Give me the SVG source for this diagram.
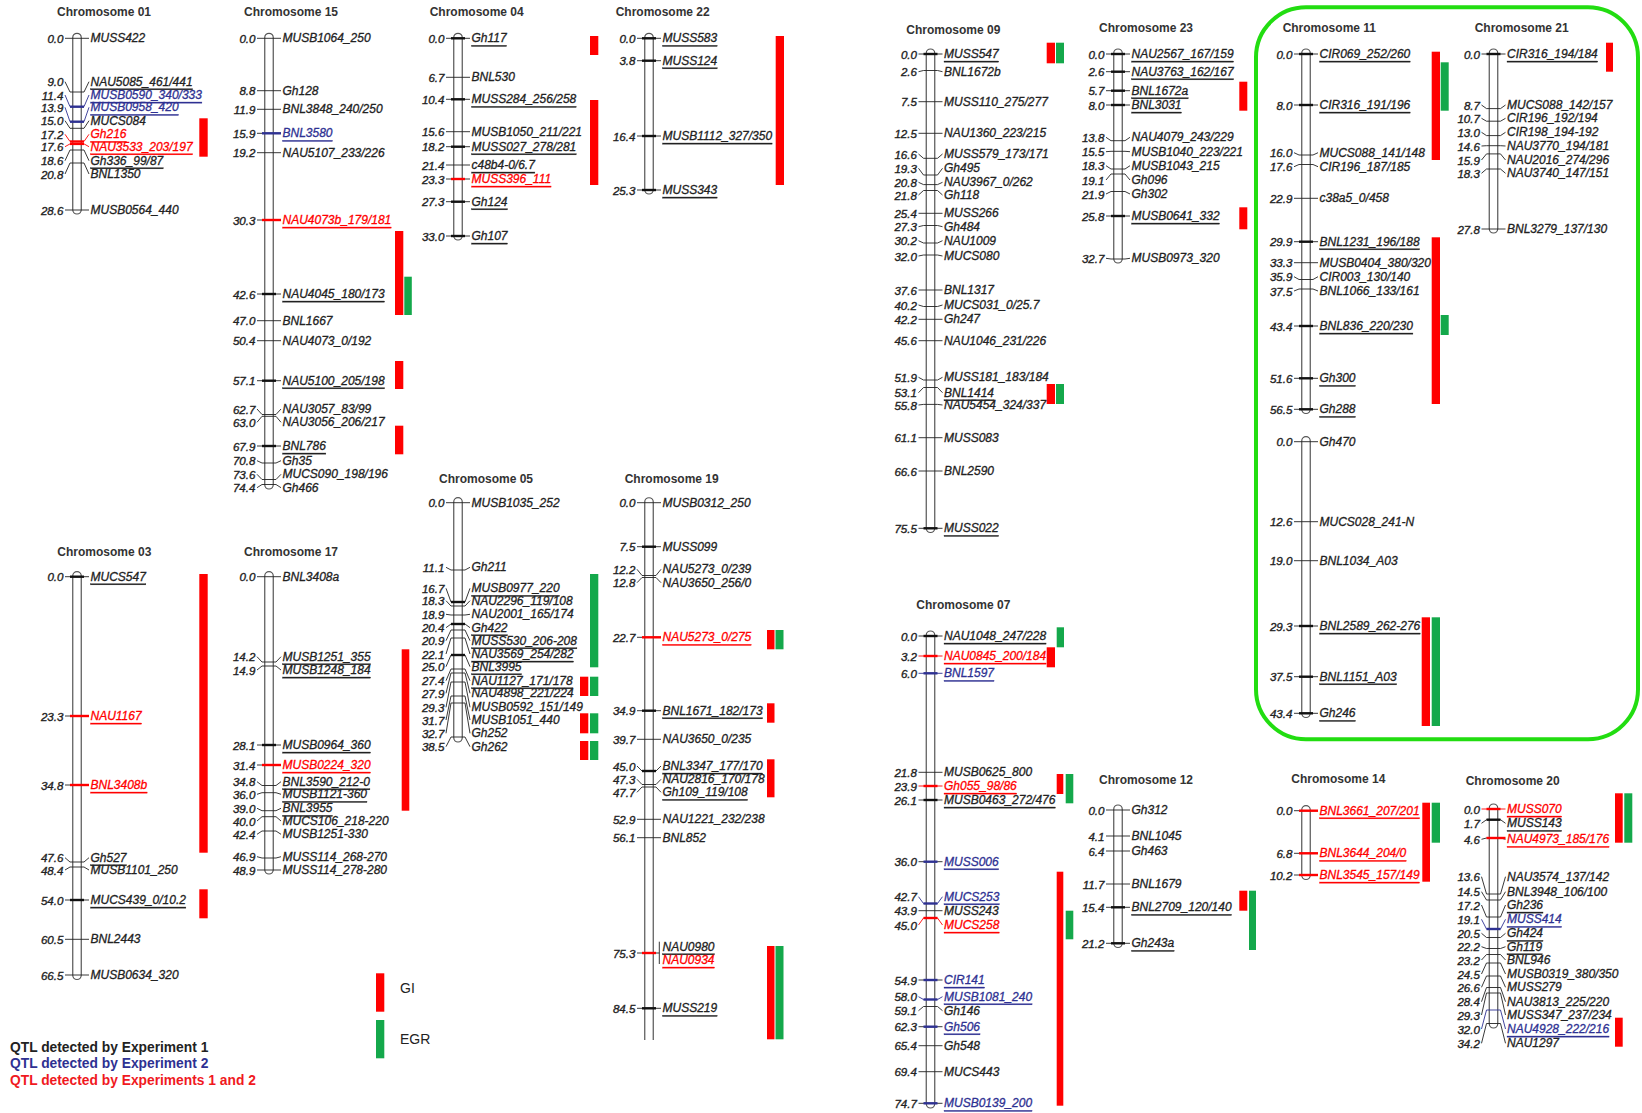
<svg xmlns="http://www.w3.org/2000/svg" width="1642" height="1113" viewBox="0 0 1642 1113">
<style>
text{font-family:"Liberation Sans",Arial,sans-serif}
.ti{font-size:12px;font-weight:bold;fill:#333;text-anchor:middle;dominant-baseline:central}
.n{font-size:11.6px;font-style:italic;fill:#222;stroke:#222;stroke-width:0.35;text-anchor:end;dominant-baseline:central}
.m{font-size:12px;font-style:italic;fill:#222;stroke:#222;stroke-width:0.3;dominant-baseline:central}
.u{text-decoration:underline}
.r{fill:#f00;stroke:#f00}
.b{fill:#2e3192;stroke:#2e3192}
.c{fill:none;stroke:#222;stroke-width:0.9}
.cr{stroke:#f00}
.cb{stroke:#2e3192}
.t{stroke:#111;stroke-width:2.4;fill:none}
.tr{stroke:#f00;stroke-width:2.4;fill:none}
.tb{stroke:#2e3192;stroke-width:2.4;fill:none}
.rod{fill:#fff;stroke:#555;stroke-width:1.2}
.qr{fill:#f00}
.qg{fill:#14a84b}
.lg{font-size:13.8px;font-weight:bold;dominant-baseline:central}
.lk{font-size:14px;fill:#222;dominant-baseline:central}
</style>
<rect width="1642" height="1113" fill="#fff"/>

<!-- Chromosome 01 -->
<g id="chr01">
<g transform="translate(77,0)">
<text class="ti" x="27" y="12">Chromosome 01</text>
<rect class="rod" x="-4.25" y="33.3" width="8.5" height="180.7" rx="4.25"/>
<g class="ticks">
<path class="c" d="M-12,38.3H12"/>
<path class="c" d="M-12,81.7L-7,92H7L12,81.7"/>
<path class="c cb" d="M-12,95L-7,106.7H7L12,95"/><path class="tb" d="M-7,106.7H7"/>
<path class="c cb" d="M-12,107.3L-7,121.7H7L12,107.3"/><path class="tb" d="M-7,121.7H7"/>
<path class="c" d="M-12,120.7L-7,128.3H7L12,120.7"/>
<path class="c cr" d="M-12,134.3L-7,141.5H7L12,134.3"/><path class="tr" d="M-7,141.5H7"/>
<path class="c cr" d="M-12,146.7L-7,143.9H7L12,146.7"/><path class="tr" d="M-7,143.9H7"/>
<path class="c" d="M-12,160.7L-7,150H7L12,160.7"/>
<path class="c" d="M-12,174L-7,163H7L12,174"/>
<path class="c" d="M-12,210H12"/>
</g>
<text class="n" x="-13.5" y="38.3">0.0</text><text class="m" x="13.5" y="38.3">MUSS422</text>
<text class="n" x="-13.5" y="81.7">9.0</text><text class="m u" x="13.5" y="81.7">NAU5085_461/441</text>
<text class="n" x="-13.5" y="95">11.4</text><text class="m u b" x="13.5" y="95">MUSB0590_340/333</text>
<text class="n" x="-13.5" y="107.3">13.9</text><text class="m u b" x="13.5" y="107.3">MUSB0958_420</text>
<text class="n" x="-13.5" y="120.7">15.0</text><text class="m" x="13.5" y="120.7">MUCS084</text>
<text class="n" x="-13.5" y="134.3">17.2</text><text class="m u r" x="13.5" y="134.3">Gh216</text>
<text class="n" x="-13.5" y="146.7">17.6</text><text class="m u r" x="13.5" y="146.7">NAU3533_203/197</text>
<text class="n" x="-13.5" y="160.7">18.6</text><text class="m u" x="13.5" y="160.7">Gh336_99/87</text>
<text class="n" x="-13.5" y="174">20.8</text><text class="m" x="13.5" y="174">BNL1350</text>
<text class="n" x="-13.5" y="210">28.6</text><text class="m" x="13.5" y="210">MUSB0564_440</text>
</g>
<g class="qtl"><rect class="qr" x="199.3" y="118.3" width="8.4" height="38.4"/></g>
</g>

<!-- Chromosome 15 -->
<g id="chr15">
<g transform="translate(269,0)">
<text class="ti" x="22" y="12">Chromosome 15</text>
<rect class="rod" x="-4.25" y="33.3" width="8.5" height="455.7" rx="4.25"/>
<g class="ticks">
<path class="c" d="M-12,38.3H12"/>
<path class="c" d="M-12,90.7H12"/>
<path class="c" d="M-12,109.3H12"/>
<path class="c" d="M-12,133.3H12"/><path class="tb" d="M-7,133.3H12"/>
<path class="c" d="M-12,152.7H12"/>
<path class="c" d="M-12,220H12"/><path class="tr" d="M-7,220H12"/>
<path class="c" d="M-12,294H12"/><path class="t" d="M-7,294H7"/>
<path class="c" d="M-12,320.7H12"/>
<path class="c" d="M-12,340.7H12"/>
<path class="c" d="M-12,380.7H12"/><path class="t" d="M-7,380.7H7"/>
<path class="c" d="M-12,409L-7,414.5H7L12,409"/>
<path class="c" d="M-12,422.3L-7,416.3H7L12,422.3"/>
<path class="c" d="M-12,446H12"/><path class="t" d="M-7,446H7"/>
<path class="c" d="M-12,460.7L-7,463H7L12,460.7"/>
<path class="c" d="M-12,474.3L-7,479.5H7L12,474.3"/>
<path class="c" d="M-12,487.7L-7,484.5H7L12,487.7"/>
</g>
<text class="n" x="-13.5" y="38.3">0.0</text><text class="m" x="13.5" y="38.3">MUSB1064_250</text>
<text class="n" x="-13.5" y="90.7">8.8</text><text class="m" x="13.5" y="90.7">Gh128</text>
<text class="n" x="-13.5" y="109.3">11.9</text><text class="m" x="13.5" y="109.3">BNL3848_240/250</text>
<text class="n" x="-13.5" y="133.3">15.9</text><text class="m u b" x="13.5" y="133.3">BNL3580</text>
<text class="n" x="-13.5" y="152.7">19.2</text><text class="m" x="13.5" y="152.7">NAU5107_233/226</text>
<text class="n" x="-13.5" y="220">30.3</text><text class="m u r" x="13.5" y="220">NAU4073b_179/181</text>
<text class="n" x="-13.5" y="294">42.6</text><text class="m u" x="13.5" y="294">NAU4045_180/173</text>
<text class="n" x="-13.5" y="320.7">47.0</text><text class="m" x="13.5" y="320.7">BNL1667</text>
<text class="n" x="-13.5" y="340.7">50.4</text><text class="m" x="13.5" y="340.7">NAU4073_0/192</text>
<text class="n" x="-13.5" y="380.7">57.1</text><text class="m u" x="13.5" y="380.7">NAU5100_205/198</text>
<text class="n" x="-13.5" y="409">62.7</text><text class="m" x="13.5" y="409">NAU3057_83/99</text>
<text class="n" x="-13.5" y="422.3">63.0</text><text class="m" x="13.5" y="422.3">NAU3056_206/217</text>
<text class="n" x="-13.5" y="446">67.9</text><text class="m u" x="13.5" y="446">BNL786</text>
<text class="n" x="-13.5" y="460.7">70.8</text><text class="m" x="13.5" y="460.7">Gh35</text>
<text class="n" x="-13.5" y="474.3">73.6</text><text class="m" x="13.5" y="474.3">MUCS090_198/196</text>
<text class="n" x="-13.5" y="487.7">74.4</text><text class="m" x="13.5" y="487.7">Gh466</text>
</g>
<g class="qtl">
<rect class="qr" x="395" y="231" width="8.3" height="84"/>
<rect class="qg" x="404.3" y="276.7" width="7.5" height="38.3"/>
<rect class="qr" x="395" y="361" width="8.3" height="28"/>
<rect class="qr" x="395" y="425.7" width="8.3" height="28.6"/>
</g>
</g>

<!-- Chromosome 04 -->
<g id="chr04">
<g transform="translate(458,0)">
<text class="ti" x="18.7" y="12">Chromosome 04</text>
<rect class="rod" x="-4.25" y="33.3" width="8.5" height="206.7" rx="4.25"/>
<g class="ticks">
<path class="c" d="M-12,38.3H12"/><path class="t" d="M-7,38.3H7"/>
<path class="c" d="M-12,77.3H12"/>
<path class="c" d="M-12,99.3H12"/><path class="t" d="M-7,99.3H7"/>
<path class="c" d="M-12,131.7H12"/>
<path class="c" d="M-12,146.7H12"/><path class="t" d="M-7,146.7H7"/>
<path class="c" d="M-12,165H12"/>
<path class="c" d="M-12,179H12"/><path class="tr" d="M-7,179H7"/>
<path class="c" d="M-12,201.7H12"/><path class="t" d="M-7,201.7H7"/>
<path class="c" d="M-12,236H12"/><path class="t" d="M-7,236H7"/>
</g>
<text class="n" x="-13.5" y="38.3">0.0</text><text class="m u" x="13.5" y="38.3">Gh117</text>
<text class="n" x="-13.5" y="77.3">6.7</text><text class="m" x="13.5" y="77.3">BNL530</text>
<text class="n" x="-13.5" y="99.3">10.4</text><text class="m u" x="13.5" y="99.3">MUSS284_256/258</text>
<text class="n" x="-13.5" y="131.7">15.6</text><text class="m" x="13.5" y="131.7">MUSB1050_211/221</text>
<text class="n" x="-13.5" y="146.7">18.2</text><text class="m u" x="13.5" y="146.7">MUSS027_278/281</text>
<text class="n" x="-13.5" y="165">21.4</text><text class="m u" x="13.5" y="165">c48b4-0/6.7</text>
<text class="n" x="-13.5" y="179">23.3</text><text class="m u r" x="13.5" y="179">MUSS396_111</text>
<text class="n" x="-13.5" y="201.7">27.3</text><text class="m u" x="13.5" y="201.7">Gh124</text>
<text class="n" x="-13.5" y="236">33.0</text><text class="m u" x="13.5" y="236">Gh107</text>
</g>
<g class="qtl">
<rect class="qr" x="590" y="36" width="8.3" height="19"/>
<rect class="qr" x="590" y="100" width="8.3" height="85"/>
</g>
</g>

<!-- Chromosome 22 -->
<g id="chr22">
<g transform="translate(649,0)">
<text class="ti" x="13.7" y="12">Chromosome 22</text>
<rect class="rod" x="-4.25" y="33.3" width="8.5" height="160.7" rx="4.25"/>
<g class="ticks">
<path class="c" d="M-12,38.3H12"/><path class="t" d="M-7,38.3H7"/>
<path class="c" d="M-12,60.7H12"/><path class="t" d="M-7,60.7H7"/>
<path class="c" d="M-12,136H12"/><path class="t" d="M-7,136H7"/>
<path class="c" d="M-12,190H12"/><path class="t" d="M-7,190H7"/>
</g>
<text class="n" x="-13.5" y="38.3">0.0</text><text class="m u" x="13.5" y="38.3">MUSS583</text>
<text class="n" x="-13.5" y="60.7">3.8</text><text class="m u" x="13.5" y="60.7">MUSS124</text>
<text class="n" x="-13.5" y="136">16.4</text><text class="m u" x="13.5" y="136">MUSB1112_327/350</text>
<text class="n" x="-13.5" y="190">25.3</text><text class="m u" x="13.5" y="190">MUSS343</text>
</g>
<g class="qtl"><rect class="qr" x="775.7" y="36" width="8.3" height="149"/></g>
</g>

<!-- Chromosome 09 -->
<g id="chr09">
<g transform="translate(930.5,0)">
<text class="ti" x="22.8" y="30">Chromosome 09</text>
<rect class="rod" x="-4.25" y="49" width="8.5" height="483.5" rx="4.25"/>
<g class="ticks">
<path class="c" d="M-12,54H12"/><path class="t" d="M-7,54H7"/>
<path class="c" d="M-12,71.7L-7,70.5H7L12,71.7"/>
<path class="c" d="M-12,101.7H12"/>
<path class="c" d="M-12,133.3H12"/>
<path class="c" d="M-12,154L-7,158.3H7L12,154"/>
<path class="c" d="M-12,168.3L-7,175H7L12,168.3"/>
<path class="c" d="M-12,182.3L-7,184.6H7L12,182.3"/>
<path class="c" d="M-12,195L-7,190.5H7L12,195"/>
<path class="c" d="M-12,213.3H12"/>
<path class="c" d="M-12,226.7L-7,225.5H7L12,226.7"/>
<path class="c" d="M-12,240.7L-7,243H7L12,240.7"/>
<path class="c" d="M-12,256L-7,255H7L12,256"/>
<path class="c" d="M-12,290H12"/>
<path class="c" d="M-12,305L-7,306.5H7L12,305"/>
<path class="c" d="M-12,319.3H12"/>
<path class="c" d="M-12,340.7H12"/>
<path class="c" d="M-12,377.3L-7,380H7L12,377.3"/>
<path class="c" d="M-12,392.7L-7,387.5H7L12,392.7"/>
<path class="c" d="M-12,405L-7,404.4H7L12,405"/>
<path class="c" d="M-12,437.7H12"/>
<path class="c" d="M-12,471H12"/>
<path class="c" d="M-12,528.3H12"/><path class="t" d="M-7,528.3H7"/>
</g>
<text class="n" x="-13.5" y="54">0.0</text><text class="m u" x="13.5" y="54">MUSS547</text>
<text class="n" x="-13.5" y="71.7">2.6</text><text class="m" x="13.5" y="71.7">BNL1672b</text>
<text class="n" x="-13.5" y="101.7">7.5</text><text class="m" x="13.5" y="101.7">MUSS110_275/277</text>
<text class="n" x="-13.5" y="133.3">12.5</text><text class="m" x="13.5" y="133.3">NAU1360_223/215</text>
<text class="n" x="-13.5" y="154">16.6</text><text class="m" x="13.5" y="154">MUSS579_173/171</text>
<text class="n" x="-13.5" y="168.3">19.3</text><text class="m" x="13.5" y="168.3">Gh495</text>
<text class="n" x="-13.5" y="182.3">20.8</text><text class="m" x="13.5" y="182.3">NAU3967_0/262</text>
<text class="n" x="-13.5" y="195">21.8</text><text class="m" x="13.5" y="195">Gh118</text>
<text class="n" x="-13.5" y="213.3">25.4</text><text class="m" x="13.5" y="213.3">MUSS266</text>
<text class="n" x="-13.5" y="226.7">27.3</text><text class="m" x="13.5" y="226.7">Gh484</text>
<text class="n" x="-13.5" y="240.7">30.2</text><text class="m" x="13.5" y="240.7">NAU1009</text>
<text class="n" x="-13.5" y="256">32.0</text><text class="m" x="13.5" y="256">MUCS080</text>
<text class="n" x="-13.5" y="290">37.6</text><text class="m" x="13.5" y="290">BNL1317</text>
<text class="n" x="-13.5" y="305">40.2</text><text class="m" x="13.5" y="305">MUCS031_0/25.7</text>
<text class="n" x="-13.5" y="319.3">42.2</text><text class="m" x="13.5" y="319.3">Gh247</text>
<text class="n" x="-13.5" y="340.7">45.6</text><text class="m" x="13.5" y="340.7">NAU1046_231/226</text>
<text class="n" x="-13.5" y="377.3">51.9</text><text class="m" x="13.5" y="377.3">MUSS181_183/184</text>
<text class="n" x="-13.5" y="392.7">53.1</text><text class="m u" x="13.5" y="392.7">BNL1414</text>
<text class="n" x="-13.5" y="405">55.8</text><text class="m" x="13.5" y="405">NAU5454_324/337</text>
<text class="n" x="-13.5" y="437.7">61.1</text><text class="m" x="13.5" y="437.7">MUSS083</text>
<text class="n" x="-13.5" y="471">66.6</text><text class="m" x="13.5" y="471">BNL2590</text>
<text class="n" x="-13.5" y="528.3">75.5</text><text class="m u" x="13.5" y="528.3">MUSS022</text>
</g>
<g class="qtl">
<rect class="qr" x="1046.7" y="42.7" width="8.3" height="20.6"/>
<rect class="qg" x="1056" y="42.7" width="8" height="20.6"/>
<rect class="qr" x="1046.7" y="384" width="8.3" height="20"/>
<rect class="qg" x="1056" y="384" width="8" height="20"/>
</g>
</g>

<!-- Chromosome 23 -->
<g id="chr23">
<g transform="translate(1118,0)">
<text class="ti" x="28" y="28.3">Chromosome 23</text>
<rect class="rod" x="-4.25" y="49" width="8.5" height="214" rx="4.25"/>
<g class="ticks">
<path class="c" d="M-12,54H12"/><path class="t" d="M-7,54H7"/>
<path class="c" d="M-12,71.7H12"/><path class="t" d="M-7,71.7H7"/>
<path class="c" d="M-12,90.7H12"/><path class="t" d="M-7,90.7H7"/>
<path class="c" d="M-12,105H12"/><path class="t" d="M-7,105H7"/>
<path class="c" d="M-12,137.3L-7,140.7H7L12,137.3"/>
<path class="c" d="M-12,151.7L-7,151.3H7L12,151.7"/>
<path class="c" d="M-12,165.7L-7,169H7L12,165.7"/>
<path class="c" d="M-12,180L-7,174H7L12,180"/>
<path class="c" d="M-12,194L-7,191.5H7L12,194"/>
<path class="c" d="M-12,216H12"/><path class="t" d="M-7,216H7"/>
<path class="c" d="M-12,258.3L-7,259H7L12,258.3"/>
</g>
<text class="n" x="-13.5" y="54">0.0</text><text class="m u" x="13.5" y="54">NAU2567_167/159</text>
<text class="n" x="-13.5" y="71.7">2.6</text><text class="m u" x="13.5" y="71.7">NAU3763_162/167</text>
<text class="n" x="-13.5" y="90.7">5.7</text><text class="m u" x="13.5" y="90.7">BNL1672a</text>
<text class="n" x="-13.5" y="105">8.0</text><text class="m u" x="13.5" y="105">BNL3031</text>
<text class="n" x="-13.5" y="137.3">13.8</text><text class="m" x="13.5" y="137.3">NAU4079_243/229</text>
<text class="n" x="-13.5" y="151.7">15.5</text><text class="m" x="13.5" y="151.7">MUSB1040_223/221</text>
<text class="n" x="-13.5" y="165.7">18.3</text><text class="m" x="13.5" y="165.7">MUSB1043_215</text>
<text class="n" x="-13.5" y="180">19.1</text><text class="m" x="13.5" y="180">Gh096</text>
<text class="n" x="-13.5" y="194">21.9</text><text class="m" x="13.5" y="194">Gh302</text>
<text class="n" x="-13.5" y="216">25.8</text><text class="m u" x="13.5" y="216">MUSB0641_332</text>
<text class="n" x="-13.5" y="258.3">32.7</text><text class="m" x="13.5" y="258.3">MUSB0973_320</text>
</g>
<g class="qtl">
<rect class="qr" x="1239.3" y="81.7" width="8" height="29"/>
<rect class="qr" x="1239.3" y="207.3" width="8" height="22"/>
</g>
</g>

<!-- Highlight box -->
<g id="highlight">
<rect x="1256" y="7.3" width="382" height="732" rx="50" fill="none" stroke="#22dd11" stroke-width="4"/>
</g>

<!-- Chromosome 11 -->
<g id="chr11">
<g transform="translate(1306,0)">
<text class="ti" x="23.3" y="28.3">Chromosome 11</text>
<rect class="rod" x="-4.25" y="49" width="8.5" height="364.5" rx="4.25"/>
<g class="ticks">
<path class="c" d="M-12,54H12"/><path class="t" d="M-7,54H7"/>
<path class="c" d="M-12,105H12"/><path class="t" d="M-7,105H7"/>
<path class="c" d="M-12,152.7L-7,155H7L12,152.7"/>
<path class="c" d="M-12,166.7L-7,164.5H7L12,166.7"/>
<path class="c" d="M-12,198.3H12"/>
<path class="c" d="M-12,241.7H12"/><path class="t" d="M-7,241.7H7"/>
<path class="c" d="M-12,262.7H12"/>
<path class="c" d="M-12,276.7L-7,279.5H7L12,276.7"/>
<path class="c" d="M-12,291L-7,289H7L12,291"/>
<path class="c" d="M-12,326H12"/><path class="t" d="M-7,326H7"/>
<path class="c" d="M-12,378.3H12"/><path class="t" d="M-7,378.3H7"/>
<path class="c" d="M-12,409.3H12"/><path class="t" d="M-7,409.3H7"/>
</g>
<text class="n" x="-13.5" y="54">0.0</text><text class="m u" x="13.5" y="54">CIR069_252/260</text>
<text class="n" x="-13.5" y="105">8.0</text><text class="m u" x="13.5" y="105">CIR316_191/196</text>
<text class="n" x="-13.5" y="152.7">16.0</text><text class="m" x="13.5" y="152.7">MUCS088_141/148</text>
<text class="n" x="-13.5" y="166.7">17.6</text><text class="m" x="13.5" y="166.7">CIR196_187/185</text>
<text class="n" x="-13.5" y="198.3">22.9</text><text class="m" x="13.5" y="198.3">c38a5_0/458</text>
<text class="n" x="-13.5" y="241.7">29.9</text><text class="m u" x="13.5" y="241.7">BNL1231_196/188</text>
<text class="n" x="-13.5" y="262.7">33.3</text><text class="m" x="13.5" y="262.7">MUSB0404_380/320</text>
<text class="n" x="-13.5" y="276.7">35.9</text><text class="m" x="13.5" y="276.7">CIR003_130/140</text>
<text class="n" x="-13.5" y="291">37.5</text><text class="m" x="13.5" y="291">BNL1066_133/161</text>
<text class="n" x="-13.5" y="326">43.4</text><text class="m u" x="13.5" y="326">BNL836_220/230</text>
<text class="n" x="-13.5" y="378.3">51.6</text><text class="m u" x="13.5" y="378.3">Gh300</text>
<text class="n" x="-13.5" y="409.3">56.5</text><text class="m u" x="13.5" y="409.3">Gh288</text>
<rect class="rod" x="-4.25" y="436.7" width="8.5" height="280.8" rx="4.25"/>
<g class="ticks">
<path class="c" d="M-12,441.7H12"/>
<path class="c" d="M-12,521.7H12"/>
<path class="c" d="M-12,560.7H12"/>
<path class="c" d="M-12,626H12"/><path class="t" d="M-7,626H7"/>
<path class="c" d="M-12,676.7H12"/><path class="t" d="M-7,676.7H7"/>
<path class="c" d="M-12,713.3H12"/><path class="t" d="M-7,713.3H7"/>
</g>
<text class="n" x="-13.5" y="441.7">0.0</text><text class="m" x="13.5" y="441.7">Gh470</text>
<text class="n" x="-13.5" y="521.7">12.6</text><text class="m" x="13.5" y="521.7">MUCS028_241-N</text>
<text class="n" x="-13.5" y="560.7">19.0</text><text class="m" x="13.5" y="560.7">BNL1034_A03</text>
<text class="n" x="-13.5" y="626">29.3</text><text class="m u" x="13.5" y="626">BNL2589_262-276</text>
<text class="n" x="-13.5" y="676.7">37.5</text><text class="m u" x="13.5" y="676.7">BNL1151_A03</text>
<text class="n" x="-13.5" y="713.3">43.4</text><text class="m u" x="13.5" y="713.3">Gh246</text>
</g>
<g class="qtl">
<rect class="qr" x="1431.7" y="51.7" width="8.3" height="108.3"/>
<rect class="qg" x="1440.7" y="62.3" width="8" height="48.4"/>
<rect class="qr" x="1431.7" y="237.3" width="8.3" height="166.7"/>
<rect class="qg" x="1440.7" y="315" width="8" height="20"/>
<rect class="qr" x="1421.7" y="617.3" width="8.3" height="108.7"/>
<rect class="qg" x="1431.7" y="617.3" width="8.3" height="108.7"/>
</g>
</g>

<!-- Chromosome 21 -->
<g id="chr21">
<g transform="translate(1493.5,0)">
<text class="ti" x="28.2" y="28.3">Chromosome 21</text>
<rect class="rod" x="-4.25" y="49" width="8.5" height="184" rx="4.25"/>
<g class="ticks">
<path class="c" d="M-12,54H12"/><path class="t" d="M-7,54H7"/>
<path class="c" d="M-12,105L-7,108.6H7L12,105"/>
<path class="c" d="M-12,118.3L-7,121.2H7L12,118.3"/>
<path class="c" d="M-12,132.3L-7,135.6H7L12,132.3"/>
<path class="c" d="M-12,146L-7,145.7H7L12,146"/>
<path class="c" d="M-12,160L-7,153.9H7L12,160"/>
<path class="c" d="M-12,173.3L-7,169H7L12,173.3"/>
<path class="c" d="M-12,229H12"/>
</g>
<text class="n" x="-13.5" y="54">0.0</text><text class="m u" x="13.5" y="54">CIR316_194/184</text>
<text class="n" x="-13.5" y="105">8.7</text><text class="m" x="13.5" y="105">MUCS088_142/157</text>
<text class="n" x="-13.5" y="118.3">10.7</text><text class="m" x="13.5" y="118.3">CIR196_192/194</text>
<text class="n" x="-13.5" y="132.3">13.0</text><text class="m" x="13.5" y="132.3">CIR198_194-192</text>
<text class="n" x="-13.5" y="146">14.6</text><text class="m" x="13.5" y="146">NAU3770_194/181</text>
<text class="n" x="-13.5" y="160">15.9</text><text class="m" x="13.5" y="160">NAU2016_274/296</text>
<text class="n" x="-13.5" y="173.3">18.3</text><text class="m" x="13.5" y="173.3">NAU3740_147/151</text>
<text class="n" x="-13.5" y="229">27.8</text><text class="m" x="13.5" y="229">BNL3279_137/130</text>
</g>
<g class="qtl"><rect class="qr" x="1606" y="42.7" width="7" height="29"/></g>
</g>

<!-- Chromosome 03 -->
<g id="chr03">
<g transform="translate(77,0)">
<text class="ti" x="27.3" y="551.7">Chromosome 03</text>
<rect class="rod" x="-4.25" y="571.7" width="8.5" height="407.8" rx="4.25"/>
<g class="ticks">
<path class="c" d="M-12,576.7H12"/><path class="t" d="M-7,576.7H7"/>
<path class="c" d="M-12,716H12"/><path class="tr" d="M-7,716H12"/>
<path class="c" d="M-12,785H12"/><path class="tr" d="M-7,785H12"/>
<path class="c" d="M-12,857.7L-7,862H7L12,857.7"/>
<path class="c" d="M-12,870L-7,867H7L12,870"/>
<path class="c" d="M-12,900H12"/><path class="t" d="M-7,900H7"/>
<path class="c" d="M-12,939.3H12"/>
<path class="c" d="M-12,975H12"/>
</g>
<text class="n" x="-13.5" y="576.7">0.0</text><text class="m u" x="13.5" y="576.7">MUCS547</text>
<text class="n" x="-13.5" y="716">23.3</text><text class="m u r" x="13.5" y="716">NAU1167</text>
<text class="n" x="-13.5" y="785">34.8</text><text class="m u r" x="13.5" y="785">BNL3408b</text>
<text class="n" x="-13.5" y="857.7">47.6</text><text class="m u" x="13.5" y="857.7">Gh527</text>
<text class="n" x="-13.5" y="870">48.4</text><text class="m" x="13.5" y="870">MUSB1101_250</text>
<text class="n" x="-13.5" y="900">54.0</text><text class="m u" x="13.5" y="900">MUCS439_0/10.2</text>
<text class="n" x="-13.5" y="939.3">60.5</text><text class="m" x="13.5" y="939.3">BNL2443</text>
<text class="n" x="-13.5" y="975">66.5</text><text class="m" x="13.5" y="975">MUSB0634_320</text>
</g>
<g class="qtl">
<rect class="qr" x="199.3" y="574" width="8.4" height="278.7"/>
<rect class="qr" x="199.3" y="889.3" width="8.4" height="29"/>
</g>
</g>

<!-- Chromosome 17 -->
<g id="chr17">
<g transform="translate(269,0)">
<text class="ti" x="22" y="551.7">Chromosome 17</text>
<rect class="rod" x="-4.25" y="571.7" width="8.5" height="302.3" rx="4.25"/>
<g class="ticks">
<path class="c" d="M-12,576.7H12"/>
<path class="c" d="M-12,656.7L-7,662H7L12,656.7"/>
<path class="c" d="M-12,670L-7,666H7L12,670"/>
<path class="c" d="M-12,745H12"/><path class="t" d="M-7,745H7"/>
<path class="c" d="M-12,765H12"/><path class="tr" d="M-7,765H12"/>
<path class="c" d="M-12,781.7L-7,785.5H7L12,781.7"/>
<path class="c" d="M-12,794.3L-7,792.7H7L12,794.3"/>
<path class="c" d="M-12,808.3L-7,810.7H7L12,808.3"/>
<path class="c" d="M-12,821L-7,816.7H7L12,821"/>
<path class="c" d="M-12,834.3L-7,831H7L12,834.3"/>
<path class="c" d="M-12,856.7L-7,858H7L12,856.7"/>
<path class="c" d="M-12,870H12"/>
</g>
<text class="n" x="-13.5" y="576.7">0.0</text><text class="m" x="13.5" y="576.7">BNL3408a</text>
<text class="n" x="-13.5" y="656.7">14.2</text><text class="m u" x="13.5" y="656.7">MUSB1251_355</text>
<text class="n" x="-13.5" y="670">14.9</text><text class="m u" x="13.5" y="670">MUSB1248_184</text>
<text class="n" x="-13.5" y="745">28.1</text><text class="m u" x="13.5" y="745">MUSB0964_360</text>
<text class="n" x="-13.5" y="765">31.4</text><text class="m u r" x="13.5" y="765">MUSB0224_320</text>
<text class="n" x="-13.5" y="781.7">34.8</text><text class="m u" x="13.5" y="781.7">BNL3590_212-0</text>
<text class="n" x="-13.5" y="794.3">36.0</text><text class="m u" x="13.5" y="794.3">MUSB1121-360</text>
<text class="n" x="-13.5" y="808.3">39.0</text><text class="m u" x="13.5" y="808.3">BNL3955</text>
<text class="n" x="-13.5" y="821">40.0</text><text class="m" x="13.5" y="821">MUCS106_218-220</text>
<text class="n" x="-13.5" y="834.3">42.4</text><text class="m" x="13.5" y="834.3">MUSB1251-330</text>
<text class="n" x="-13.5" y="856.7">46.9</text><text class="m" x="13.5" y="856.7">MUSS114_268-270</text>
<text class="n" x="-13.5" y="870">48.9</text><text class="m" x="13.5" y="870">MUSS114_278-280</text>
</g>
<g class="qtl"><rect class="qr" x="401.7" y="649.3" width="7.6" height="161.4"/></g>
</g>

<!-- Chromosome 05 -->
<g id="chr05">
<g transform="translate(458,0)">
<text class="ti" x="28" y="479.3">Chromosome 05</text>
<rect class="rod" x="-4.25" y="497.7" width="8.5" height="244.3" rx="4.25"/>
<g class="ticks">
<path class="c" d="M-12,502.7H12"/>
<path class="c" d="M-12,567.3L-7,570H7L12,567.3"/>
<path class="c" d="M-12,588.3L-7,602H7L12,588.3"/><path class="t" d="M-7,602H7"/>
<path class="c" d="M-12,600.7L-7,606H7L12,600.7"/>
<path class="c" d="M-12,614.3L-7,615H7L12,614.3"/>
<path class="c" d="M-12,627.7L-7,624H7L12,627.7"/><path class="t" d="M-7,624H7"/>
<path class="c" d="M-12,640.7L-7,630H7L12,640.7"/>
<path class="c" d="M-12,654L-7,638H7L12,654"/>
<path class="c" d="M-12,666.7L-7,655H7L12,666.7"/><path class="t" d="M-7,655H7"/>
<path class="c" d="M-12,680.7L-7,669H7L12,680.7"/>
<path class="c" d="M-12,693.3L-7,673H7L12,693.3"/>
<path class="c" d="M-12,707.3L-7,682H7L12,707.3"/>
<path class="c" d="M-12,720L-7,696H7L12,720"/>
<path class="c" d="M-12,733.3L-7,703H7L12,733.3"/>
<path class="c" d="M-12,746.7L-7,737H7L12,746.7"/>
</g>
<text class="n" x="-13.5" y="502.7">0.0</text><text class="m" x="13.5" y="502.7">MUSB1035_252</text>
<text class="n" x="-13.5" y="567.3">11.1</text><text class="m" x="13.5" y="567.3">Gh211</text>
<text class="n" x="-13.5" y="588.3">16.7</text><text class="m u" x="13.5" y="588.3">MUSB0977_220</text>
<text class="n" x="-13.5" y="600.7">18.3</text><text class="m" x="13.5" y="600.7">NAU2296_119/108</text>
<text class="n" x="-13.5" y="614.3">18.9</text><text class="m" x="13.5" y="614.3">NAU2001_165/174</text>
<text class="n" x="-13.5" y="627.7">20.4</text><text class="m u" x="13.5" y="627.7">Gh422</text>
<text class="n" x="-13.5" y="640.7">20.9</text><text class="m u" x="13.5" y="640.7">MUSS530_206-208</text>
<text class="n" x="-13.5" y="654">22.1</text><text class="m u" x="13.5" y="654">NAU3569_254/282</text>
<text class="n" x="-13.5" y="666.7">25.0</text><text class="m u" x="13.5" y="666.7">BNL3995</text>
<text class="n" x="-13.5" y="680.7">27.4</text><text class="m u" x="13.5" y="680.7">NAU1127_171/178</text>
<text class="n" x="-13.5" y="693.3">27.9</text><text class="m" x="13.5" y="693.3">NAU4898_221/224</text>
<text class="n" x="-13.5" y="707.3">29.3</text><text class="m" x="13.5" y="707.3">MUSB0592_151/149</text>
<text class="n" x="-13.5" y="720">31.7</text><text class="m" x="13.5" y="720">MUSB1051_440</text>
<text class="n" x="-13.5" y="733.3">32.7</text><text class="m" x="13.5" y="733.3">Gh252</text>
<text class="n" x="-13.5" y="746.7">38.5</text><text class="m" x="13.5" y="746.7">Gh262</text>
</g>
<g class="qtl">
<rect class="qg" x="590" y="574" width="8.3" height="93.3"/>
<rect class="qr" x="580" y="676.7" width="8.3" height="19.3"/>
<rect class="qg" x="590" y="676.7" width="8.3" height="19.3"/>
<rect class="qr" x="580" y="713.3" width="8.3" height="20"/>
<rect class="qg" x="590" y="713.3" width="8.3" height="20"/>
<rect class="qr" x="580" y="741" width="8.3" height="19"/>
<rect class="qg" x="590" y="741" width="8.3" height="19"/>
</g>
</g>

<!-- Chromosome 19 -->
<g id="chr19">
<g transform="translate(649,0)">
<text class="ti" x="22.7" y="479.3">Chromosome 19</text>
<path class="rod" d="M-4.25,1040V502A4.25,4.25 0 0 1 4.25,502V1040"/>
<g class="ticks">
<path class="c" d="M-12,502.7H12"/>
<path class="c" d="M-12,546.7H12"/><path class="t" d="M-7,546.7H7"/>
<path class="c" d="M-12,569.3L-7,575.5H7L12,569.3"/>
<path class="c" d="M-12,582.7L-7,577.5H7L12,582.7"/>
<path class="c" d="M-12,637.3H12"/><path class="tr" d="M-7,637.3H12"/>
<path class="c" d="M-12,710.7H12"/><path class="t" d="M-7,710.7H7"/>
<path class="c" d="M-12,739.3H12"/>
<path class="c" d="M-12,766L-7,771H7L12,766"/><path class="t" d="M-7,771H7"/>
<path class="c" d="M-12,779.3L-7,784.5H7L12,779.3"/>
<path class="c" d="M-12,792.3L-7,787H7L12,792.3"/>
<path class="c" d="M-12,819.3H12"/>
<path class="c" d="M-12,837.7H12"/>
<path class="c" d="M-12,953H10.3M10.3,941.7V964"/><path class="tr" d="M-7,953H7"/>
<path class="c" d="M-12,1008.3H12"/><path class="t" d="M-7,1008.3H7"/>
</g>
<text class="n" x="-13.5" y="502.7">0.0</text><text class="m" x="13.5" y="502.7">MUSB0312_250</text>
<text class="n" x="-13.5" y="546.7">7.5</text><text class="m" x="13.5" y="546.7">MUSS099</text>
<text class="n" x="-13.5" y="569.3">12.2</text><text class="m" x="13.5" y="569.3">NAU5273_0/239</text>
<text class="n" x="-13.5" y="582.7">12.8</text><text class="m" x="13.5" y="582.7">NAU3650_256/0</text>
<text class="n" x="-13.5" y="637.3">22.7</text><text class="m u r" x="13.5" y="637.3">NAU5273_0/275</text>
<text class="n" x="-13.5" y="710.7">34.9</text><text class="m u" x="13.5" y="710.7">BNL1671_182/173</text>
<text class="n" x="-13.5" y="739.3">39.7</text><text class="m" x="13.5" y="739.3">NAU3650_0/235</text>
<text class="n" x="-13.5" y="766">45.0</text><text class="m u" x="13.5" y="766">BNL3347_177/170</text>
<text class="n" x="-13.5" y="779.3">47.3</text><text class="m" x="13.5" y="779.3">NAU2816_170/178</text>
<text class="n" x="-13.5" y="792.3">47.7</text><text class="m u" x="13.5" y="792.3">Gh109_119/108</text>
<text class="n" x="-13.5" y="819.3">52.9</text><text class="m" x="13.5" y="819.3">NAU1221_232/238</text>
<text class="n" x="-13.5" y="837.7">56.1</text><text class="m" x="13.5" y="837.7">BNL852</text>
<text class="n" x="-13.5" y="953.3">75.3</text>
<text class="m u" x="13.5" y="946.7">NAU0980</text>
<text class="m u r" x="13.5" y="960">NAU0934</text>
<text class="n" x="-13.5" y="1008.3">84.5</text><text class="m u" x="13.5" y="1008.3">MUSS219</text>
</g>
<g class="qtl">
<rect class="qr" x="767" y="630" width="7.5" height="19.3"/>
<rect class="qg" x="775.5" y="630" width="8" height="19.3"/>
<rect class="qr" x="767" y="703.3" width="7.5" height="19.4"/>
<rect class="qr" x="767" y="759.3" width="7.5" height="38"/>
<rect class="qr" x="767" y="946" width="7.5" height="93.3"/>
<rect class="qg" x="775.5" y="946" width="8" height="93.3"/>
</g>
</g>

<!-- Chromosome 07 -->
<g id="chr07">
<g transform="translate(930.5,0)">
<text class="ti" x="32.8" y="605">Chromosome 07</text>
<rect class="rod" x="-4.25" y="631" width="8.5" height="477" rx="4.25"/>
<g class="ticks">
<path class="c" d="M-12,636H12"/><path class="t" d="M-7,636H7"/>
<path class="c cr" d="M-12,656H12"/><path class="tr" d="M-7,656H7"/>
<path class="c cb" d="M-12,673.3H12"/><path class="tb" d="M-7,673.3H7"/>
<path class="c" d="M-12,772.3H12"/>
<path class="c cr" d="M-12,786H12"/><path class="tr" d="M-7,786H7"/>
<path class="c" d="M-12,800H12"/><path class="t" d="M-7,800H7"/>
<path class="c" d="M-12,861.7H12"/><path class="tb" d="M-7,861.7H7"/>
<path class="c cb" d="M-12,896.7L-7,903.5H7L12,896.7"/><path class="tb" d="M-7,903.5H7"/>
<path class="c" d="M-12,910.7H12"/>
<path class="c cr" d="M-12,925L-7,918H7L12,925"/><path class="tr" d="M-7,918H7"/>
<path class="c" d="M-12,980H12"/><path class="tb" d="M-7,980H7"/>
<path class="c cb" d="M-12,996.7L-7,999.5H7L12,996.7"/><path class="tb" d="M-7,999.5H7"/>
<path class="c" d="M-12,1010.7L-7,1006.5H7L12,1010.7"/>
<path class="c" d="M-12,1026.7H12"/><path class="tb" d="M-7,1026.7H7"/>
<path class="c" d="M-12,1045.7H12"/>
<path class="c" d="M-12,1071.7H12"/>
<path class="c" d="M-12,1103.3H12"/><path class="tb" d="M-7,1103.3H7"/>
</g>
<text class="n" x="-13.5" y="636">0.0</text><text class="m u" x="13.5" y="636">NAU1048_247/228</text>
<text class="n" x="-13.5" y="656">3.2</text><text class="m u r" x="13.5" y="656">NAU0845_200/184</text>
<text class="n" x="-13.5" y="673.3">6.0</text><text class="m u b" x="13.5" y="673.3">BNL1597</text>
<text class="n" x="-13.5" y="772.3">21.8</text><text class="m" x="13.5" y="772.3">MUSB0625_800</text>
<text class="n" x="-13.5" y="786">23.9</text><text class="m u r" x="13.5" y="786">Gh055_98/86</text>
<text class="n" x="-13.5" y="800">26.1</text><text class="m u" x="13.5" y="800">MUSB0463_272/476</text>
<text class="n" x="-13.5" y="861.7">36.0</text><text class="m u b" x="13.5" y="861.7">MUSS006</text>
<text class="n" x="-13.5" y="896.7">42.7</text><text class="m u b" x="13.5" y="896.7">MUCS253</text>
<text class="n" x="-13.5" y="910.7">43.9</text><text class="m" x="13.5" y="910.7">MUSS243</text>
<text class="n" x="-13.5" y="925">45.0</text><text class="m u r" x="13.5" y="925">MUCS258</text>
<text class="n" x="-13.5" y="980">54.9</text><text class="m u b" x="13.5" y="980">CIR141</text>
<text class="n" x="-13.5" y="996.7">58.0</text><text class="m u b" x="13.5" y="996.7">MUSB1081_240</text>
<text class="n" x="-13.5" y="1010.7">59.1</text><text class="m" x="13.5" y="1010.7">Gh146</text>
<text class="n" x="-13.5" y="1026.7">62.3</text><text class="m u b" x="13.5" y="1026.7">Gh506</text>
<text class="n" x="-13.5" y="1045.7">65.4</text><text class="m" x="13.5" y="1045.7">Gh548</text>
<text class="n" x="-13.5" y="1071.7">69.4</text><text class="m" x="13.5" y="1071.7">MUCS443</text>
<text class="n" x="-13.5" y="1103.3">74.7</text><text class="m u b" x="13.5" y="1103.3">MUSB0139_200</text>
</g>
<g class="qtl">
<rect class="qg" x="1056.7" y="627.3" width="7.3" height="20"/>
<rect class="qr" x="1046.7" y="647.3" width="8.3" height="20"/>
<rect class="qr" x="1056.7" y="774" width="6.6" height="20"/>
<rect class="qg" x="1065.7" y="774" width="7.6" height="29.3"/>
<rect class="qr" x="1056.7" y="871.7" width="6.6" height="234"/>
<rect class="qg" x="1065.7" y="910.7" width="7.6" height="28.6"/>
</g>
</g>

<!-- Chromosome 12 -->
<g id="chr12">
<g transform="translate(1118,0)">
<text class="ti" x="28" y="780">Chromosome 12</text>
<rect class="rod" x="-4.25" y="805" width="8.5" height="142.5" rx="4.25"/>
<g class="ticks">
<path class="c" d="M-12,810H12"/>
<path class="c" d="M-12,836H12"/>
<path class="c" d="M-12,851H12"/>
<path class="c" d="M-12,884H12"/>
<path class="c" d="M-12,907.3H12"/><path class="t" d="M-7,907.3H7"/>
<path class="c" d="M-12,943.3H12"/><path class="t" d="M-7,943.3H7"/>
</g>
<text class="n" x="-13.5" y="810">0.0</text><text class="m" x="13.5" y="810">Gh312</text>
<text class="n" x="-13.5" y="836">4.1</text><text class="m" x="13.5" y="836">BNL1045</text>
<text class="n" x="-13.5" y="851">6.4</text><text class="m" x="13.5" y="851">Gh463</text>
<text class="n" x="-13.5" y="884">11.7</text><text class="m" x="13.5" y="884">BNL1679</text>
<text class="n" x="-13.5" y="907.3">15.4</text><text class="m u" x="13.5" y="907.3">BNL2709_120/140</text>
<text class="n" x="-13.5" y="943.3">21.2</text><text class="m u" x="13.5" y="943.3">Gh243a</text>
</g>
<g class="qtl">
<rect class="qr" x="1239.3" y="890.7" width="8" height="20"/>
<rect class="qg" x="1249" y="890.7" width="7" height="59.3"/>
</g>
</g>

<!-- Chromosome 14 -->
<g id="chr14">
<g transform="translate(1306,0)">
<text class="ti" x="32.3" y="779.3">Chromosome 14</text>
<rect class="rod" x="-4.25" y="805.7" width="8.5" height="73.8" rx="4.25"/>
<g class="ticks">
<path class="c" d="M-12,810.7H12"/><path class="tr" d="M-7,810.7H12"/>
<path class="c" d="M-12,853.3H12"/><path class="tr" d="M-7,853.3H12"/>
<path class="c" d="M-12,875H12"/><path class="tr" d="M-7,875H12"/>
</g>
<text class="n" x="-13.5" y="810.7">0.0</text><text class="m u r" x="13.5" y="810.7">BNL3661_207/201</text>
<text class="n" x="-13.5" y="853.3">6.8</text><text class="m u r" x="13.5" y="853.3">BNL3644_204/0</text>
<text class="n" x="-13.5" y="875">10.2</text><text class="m u r" x="13.5" y="875">BNL3545_157/149</text>
</g>
<g class="qtl">
<rect class="qr" x="1422.3" y="802.7" width="7.7" height="79"/>
<rect class="qg" x="1431.7" y="802.7" width="8.3" height="40"/>
</g>
</g>

<!-- Chromosome 20 -->
<g id="chr20">
<g transform="translate(1493.5,0)">
<text class="ti" x="19.2" y="780.7">Chromosome 20</text>
<rect class="rod" x="-4.25" y="804" width="8.5" height="224" rx="4.25"/>
<g class="ticks">
<path class="c cr" d="M-12,809H12"/><path class="tr" d="M-7,809H7"/>
<path class="c" d="M-12,823.3L-7,819.7H7L12,823.3"/><path class="t" d="M-7,819.7H7"/>
<path class="c" d="M-12,839.3L-7,838H7L12,839.3"/><path class="tr" d="M-7,838H12"/>
<path class="c" d="M-12,876.7L-7,894H7L12,876.7"/>
<path class="c" d="M-12,891.7L-7,900H7L12,891.7"/>
<path class="c" d="M-12,905L-7,917H7L12,905"/>
<path class="c cb" d="M-12,919.3L-7,929H7L12,919.3"/><path class="tb" d="M-7,929H7"/>
<path class="c" d="M-12,933.3L-7,937.5H7L12,933.3"/>
<path class="c" d="M-12,946.7L-7,948.5H7L12,946.7"/>
<path class="c" d="M-12,960L-7,954.5H7L12,960"/>
<path class="c" d="M-12,974L-7,963H7L12,974"/>
<path class="c" d="M-12,987.3L-7,976H7L12,987.3"/>
<path class="c" d="M-12,1001.7L-7,987.5H7L12,1001.7"/>
<path class="c" d="M-12,1015L-7,993H7L12,1015"/>
<path class="c cb" d="M-12,1029L-7,1010H7L12,1029"/>
<path class="c" d="M-12,1043.3L-7,1023.5H7L12,1043.3"/>
</g>
<text class="n" x="-13.5" y="809">0.0</text><text class="m u r" x="13.5" y="809">MUSS070</text>
<text class="n" x="-13.5" y="823.3">1.7</text><text class="m u" x="13.5" y="823.3">MUSS143</text>
<text class="n" x="-13.5" y="839.3">4.6</text><text class="m u r" x="13.5" y="839.3">NAU4973_185/176</text>
<text class="n" x="-13.5" y="876.7">13.6</text><text class="m" x="13.5" y="876.7">NAU3574_137/142</text>
<text class="n" x="-13.5" y="891.7">14.5</text><text class="m" x="13.5" y="891.7">BNL3948_106/100</text>
<text class="n" x="-13.5" y="905">17.2</text><text class="m u" x="13.5" y="905">Gh236</text>
<text class="n" x="-13.5" y="919.3">19.1</text><text class="m u b" x="13.5" y="919.3">MUSS414</text>
<text class="n" x="-13.5" y="933.3">20.5</text><text class="m u" x="13.5" y="933.3">Gh424</text>
<text class="n" x="-13.5" y="946.7">22.2</text><text class="m u" x="13.5" y="946.7">Gh119</text>
<text class="n" x="-13.5" y="960">23.2</text><text class="m" x="13.5" y="960">BNL946</text>
<text class="n" x="-13.5" y="974">24.5</text><text class="m" x="13.5" y="974">MUSB0319_380/350</text>
<text class="n" x="-13.5" y="987.3">26.6</text><text class="m" x="13.5" y="987.3">MUSS279</text>
<text class="n" x="-13.5" y="1001.7">28.4</text><text class="m" x="13.5" y="1001.7">NAU3813_225/220</text>
<text class="n" x="-13.5" y="1015">29.3</text><text class="m" x="13.5" y="1015">MUSS347_237/234</text>
<text class="n" x="-13.5" y="1029">32.0</text><text class="m u b" x="13.5" y="1029">NAU4928_222/216</text>
<text class="n" x="-13.5" y="1043.3">34.2</text><text class="m" x="13.5" y="1043.3">NAU1297</text>
</g>
<g class="qtl">
<rect class="qr" x="1615" y="793.3" width="7.7" height="49.4"/>
<rect class="qg" x="1624.3" y="793.3" width="8" height="49.4"/>
<rect class="qr" x="1615" y="1017.7" width="7.7" height="29"/>
</g>
</g>

<!-- Legend -->
<g id="legend">
<rect class="qr" x="376" y="973.3" width="8.3" height="38.4"/>
<text class="lk" x="400" y="988.3">GI</text>
<rect class="qg" x="376" y="1020" width="8.3" height="38.3"/>
<text class="lk" x="400" y="1039.3">EGR</text>
<text class="lg" x="10" y="1047.3" fill="#222">QTL detected by Experiment 1</text>
<text class="lg" x="10" y="1063.3" fill="#2e3192">QTL detected by Experiment 2</text>
<text class="lg" x="10" y="1080.7" fill="#f0191e">QTL detected by Experiments 1 and 2</text>
</g>
</svg>
